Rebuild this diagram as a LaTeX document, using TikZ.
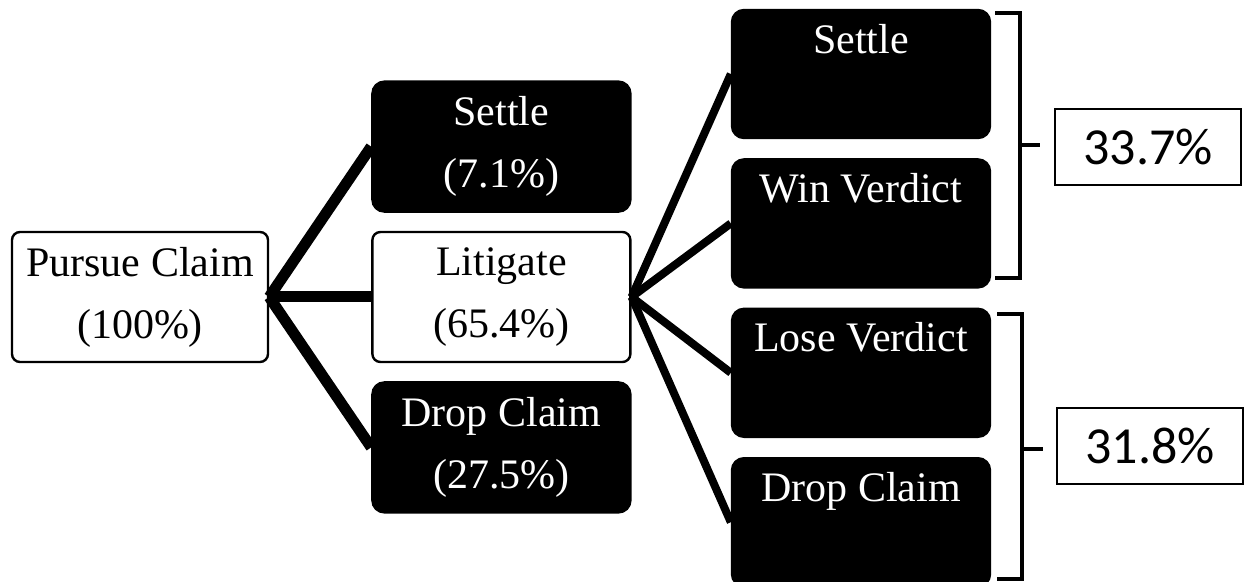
\documentclass[tikz,border=0pt]{standalone}
\usepackage{fontspec}
\setmainfont{Liberation Serif}
\newfontfamily\pctfont{Carlito}
\usetikzlibrary{positioning}

\begin{document}
\begin{tikzpicture}[x=0.5pt, y=-0.5pt, % one unit per pixel of the reference
    lightbox/.style={draw, rectangle, rounded corners=4pt, line width=1.2pt, fill=white, align=center,
        minimum width=129pt, minimum height=65pt, inner sep=0pt, font=\fontsize{21}{31}\selectfont},
    darkbox/.style={lightbox, fill=black, text=white, rounded corners=6pt},
    pctbox/.style={draw, rectangle, line width=0.9pt, minimum width=93pt, minimum height=38pt,
        inner sep=0pt, font=\pctfont\fontsize{26}{30}\selectfont},
    lbranch/.style={line width=5.5pt},
    rbranch/.style={line width=4pt},
    bracket/.style={line width=2pt}]
    \useasboundingbox (0,0) rectangle (1246,582);

    % Root
    \node[lightbox, minimum width=128pt] (pursue) at (140,297) {Pursue Claim\\(100\%)};

    % First split
    \node[lightbox, right=51pt of pursue] (litigate) {Litigate\\(65.4\%)};
    \node[darkbox, above=9pt of litigate] (settle) {Settle\\(7.1\%)};
    \node[darkbox, below=9pt of litigate] (drop) {Drop Claim\\(27.5\%)};

    % Litigation outcomes
    \node[darkbox, minimum height=64pt] (lsettle) at (861,74) {Settle\\\phantom{(}};
    \node[darkbox, minimum height=64pt, below=9.5pt of lsettle] (win) {Win Verdict\\\phantom{(}};
    \node[darkbox, minimum height=64pt, below=9.5pt of win] (lose) {Lose Verdict\\\phantom{(}};
    \node[darkbox, minimum height=64pt, below=9.5pt of lose] (ldrop) {Drop Claim\\\phantom{(}};

    % Shares
    \node[pctbox] (winshare) at (1148,147) {33.7\%};
    \node[pctbox] (loseshare) at (1150,446) {31.8\%};

    % Branches
    \draw[lbranch] (pursue.east) -- (settle.west);
    \draw[lbranch] (pursue.east) -- (litigate.west);
    \draw[lbranch] (pursue.east) -- (drop.west);
    \draw[rbranch] (litigate.east) -- (lsettle.west);
    \draw[rbranch] (litigate.east) -- (win.west);
    \draw[rbranch] (litigate.east) -- (lose.west);
    \draw[rbranch] (litigate.east) -- (ldrop.west);

    % Brackets
    \draw[bracket] (995,13) -- (1020,13) -- (1020,278) -- (995,278);
    \draw[bracket] (1020,145) -- (1040,145);
    \draw[bracket] (997,314) -- (1022,314) -- (1022,579) -- (997,579);
    \draw[bracket] (1022,449) -- (1043,449);
\end{tikzpicture}
\end{document}
